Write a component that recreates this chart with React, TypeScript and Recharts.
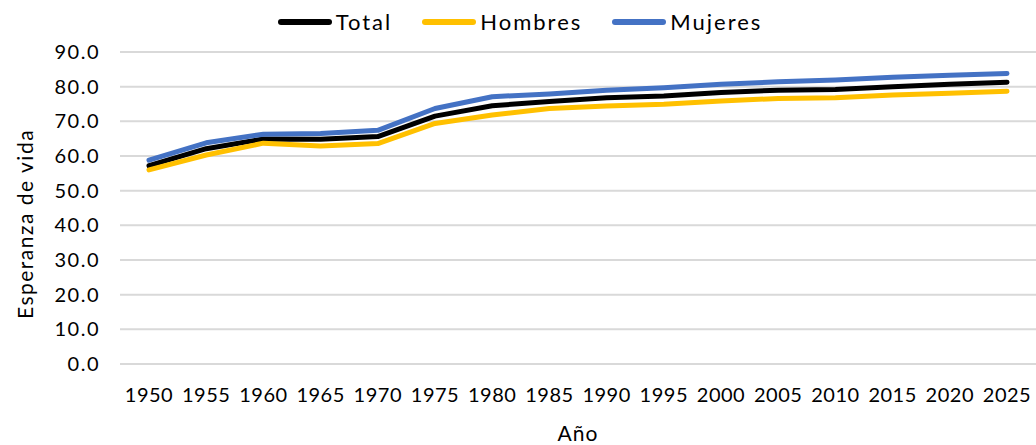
import React from 'react';
import {
  LineChart,
  Line,
  XAxis,
  YAxis,
  CartesianGrid,
  Label,
} from 'recharts';

const years = ['1950', '1955', '1960', '1965', '1970', '1975', '1980', '1985', '1990', '1995', '2000', '2005', '2010', '2015', '2020', '2025'];
const total = [57.2, 62.1, 64.9, 64.8, 65.6, 71.5, 74.5, 75.7, 76.8, 77.3, 78.3, 79.0, 79.2, 80.0, 80.7, 81.3];
const hombres = [56.0, 60.3, 63.7, 62.9, 63.6, 69.4, 71.8, 73.7, 74.4, 74.9, 75.9, 76.6, 76.8, 77.6, 78.1, 78.7];
const mujeres = [58.8, 63.8, 66.3, 66.5, 67.4, 73.7, 77.1, 77.9, 79.0, 79.7, 80.7, 81.4, 81.9, 82.7, 83.3, 83.8];
const yTicks = [0, 10, 20, 30, 40, 50, 60, 70, 80, 90];

const seriesInfo = [
  { key: 'total', name: 'Total', color: '#000000' },
  { key: 'hombres', name: 'Hombres', color: '#FFC000' },
  { key: 'mujeres', name: 'Mujeres', color: '#4472C4' },
];

const data = years.map((year, i) => ({
  year,
  total: total[i],
  hombres: hombres[i],
  mujeres: mujeres[i],
}));

const font = 'Lato, "Open Sans", sans-serif';

// legend drawn over the chart so it does not push the plot down
function LegendBox(): React.JSX.Element {
  return (
    <div
      style={{
        position: 'absolute',
        top: 8,
        left: 0,
        width: 1070,
        display: 'flex',
        justifyContent: 'center',
        alignItems: 'center',
        fontFamily: font,
        fontSize: 22,
        letterSpacing: 2,
        color: '#000',
        lineHeight: '28px',
      }}
    >
      {seriesInfo.map((s) => (
        <div key={s.key} style={{ display: 'flex', alignItems: 'center', marginRight: 30 }}>
          <div style={{ width: 54, height: 6, borderRadius: 3, background: s.color, marginRight: 4 }} />
          <span>{s.name}</span>
        </div>
      ))}
    </div>
  );
}

export default function App(): React.JSX.Element {
  return (
    <div style={{ position: 'absolute', left: 0, top: 0, width: 1036, height: 445, background: '#fff' }}>
      <LineChart
        width={1036}
        height={445}
        data={data}
        margin={{ top: 52, right: 0, bottom: 0, left: 0 }}
      >
        <CartesianGrid vertical={false} stroke="#d9d9d9" strokeWidth={2} />
        <XAxis
          dataKey="year"
          height={81}
          axisLine={false}
          tickLine={false}
          interval={0}
          padding={{ left: 29, right: 29 }}
          tick={{ fill: '#000', fontSize: 20, fontFamily: font, letterSpacing: 0.5 }}
          tickMargin={18}
        >
          <Label
            value="Año"
            position="insideBottom"
            offset={4}
            style={{ fill: '#000', fontSize: 21, fontFamily: font, letterSpacing: 1 }}
          />
        </XAxis>
        <YAxis
          width={120}
          domain={[0, 90]}
          ticks={yTicks}
          interval={0}
          axisLine={false}
          tickLine={false}
          tickMargin={14}
          tickFormatter={(v: number) => v.toFixed(1)}
          tick={{ fill: '#000', fontSize: 20, fontFamily: font, letterSpacing: 1.5 }}
        >
          <Label
            content={() => (
              <text
                x={24}
                y={224}
                transform="rotate(-90 24 224)"
                textAnchor="middle"
                dominantBaseline="central"
                style={{ fill: '#000', fontSize: 21, fontFamily: font, letterSpacing: 1.5 }}
              >
                Esperanza de vida
              </text>
            )}
          />
        </YAxis>
        {seriesInfo.map((s) => (
          <Line
            key={s.key}
            type="linear"
            dataKey={s.key}
            name={s.name}
            stroke={s.color}
            strokeWidth={5}
            strokeLinecap="round"
            strokeLinejoin="round"
            dot={false}
            activeDot={false}
            isAnimationActive={false}
          />
        ))}
      </LineChart>
      <LegendBox />
    </div>
  );
}
